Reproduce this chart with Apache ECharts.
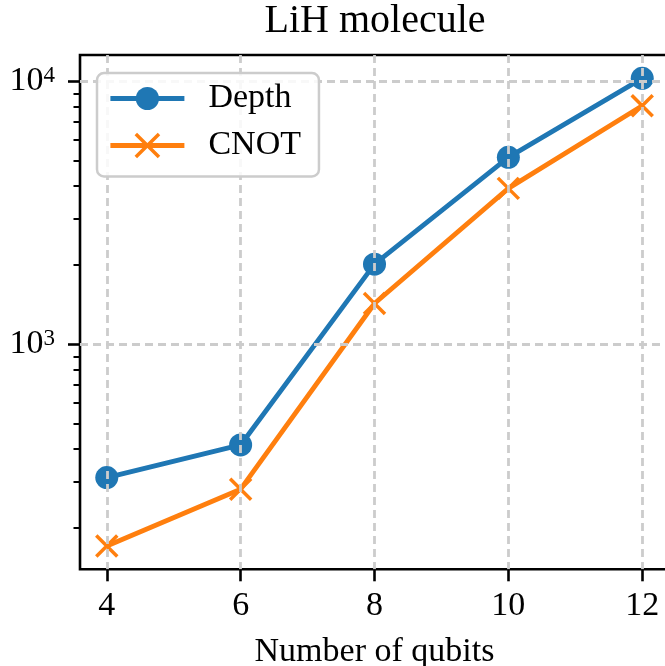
<!DOCTYPE html>
<html>
<head>
<meta charset="utf-8">
<script src="https://cdn.jsdelivr.net/npm/echarts@6/dist/echarts.min.js"></script>
<style>
  html, body { margin: 0; padding: 0; background: #ffffff; }
  #chart { width: 665px; height: 666px; }
</style>
</head>
<body>
<div id="chart"></div>
<script>
// ---- data ----
const qubits = [4, 6, 8, 10, 12];
const depth = [311, 414, 2016, 5137, 10260];
const cnot = [171, 281, 1429, 3915, 8070];
const xTicks = [4, 6, 8, 10, 12];
const yMajorTicks = [1000, 10000];
const yMinorTicks = [200, 300, 400, 500, 600, 700, 800, 900, 2000, 3000, 4000, 5000, 6000, 7000, 8000, 9000];
const titleText = 'LiH molecule';
const xName = 'Number of qubits';

// ---- chart ----
const FONT = 'Liberation Serif';
const lg = Math.log10;
const yMinLog = 2.1441, yMaxLog = 4.1000;
const gridColor = '#cccccc';
const blue = '#1f77b4', orange = '#ff7f0e';
const LW = 4.8;

const chart = echarts.init(document.getElementById('chart'), null, { renderer: 'canvas' });
chart.setOption({
  animation: false,
  backgroundColor: '#ffffff',
  textStyle: { fontFamily: FONT },
  title: {
    text: titleText,
    left: 375, top: 1, textAlign: 'center', padding: 0,
    textStyle: { fontFamily: FONT, fontSize: 40, fontWeight: 'normal', color: '#000' }
  },
  grid: {
    left: 80, top: 55, right: -4, bottom: 96.7,
    containLabel: false, outerBoundsMode: 'none',
    show: true, borderColor: '#000', borderWidth: 2.6, backgroundColor: 'transparent'
  },
  legend: {
    orient: 'vertical',
    left: 97, top: 73,
    data: [
      { name: 'Depth', lineStyle: { width: LW } },
      { name: 'CNOT', lineStyle: { width: LW }, itemStyle: { borderWidth: 3.5, borderColor: orange } }
    ],
    itemWidth: 74, itemHeight: 29, itemGap: 13,
    padding: [8.5, 18, 14, 11],
    backgroundColor: 'rgba(255,255,255,0.85)',
    borderColor: '#cccccc', borderWidth: 2.5, borderRadius: 7,
    textStyle: { fontFamily: FONT, fontSize: 34, color: '#000', lineHeight: 34, padding: [0, 0, 0, 19] },
    z: 20
  },
  xAxis: {
    type: 'value', min: 3.6, max: 12.4, z: 10,
    axisLine: { show: false },
    axisTick: { show: true, length: 12, lineStyle: { color: '#000', width: 2.6 }, customValues: xTicks },
    axisLabel: { customValues: xTicks, margin: 20, color: '#000', fontFamily: FONT, fontSize: 34 },
    splitLine: { show: true, lineStyle: { color: gridColor, width: 2.8, type: [8, 5] } },
    name: xName, nameLocation: 'middle', nameGap: 66,
    nameTextStyle: { fontFamily: FONT, fontSize: 34, color: '#000' }
  },
  yAxis: [
    {
      type: 'value', min: yMinLog, max: yMaxLog, z: 10,
      axisLine: { show: false },
      axisTick: { show: true, length: 12, lineStyle: { color: '#000', width: 2.6 }, customValues: yMajorTicks.map(lg) },
      axisLabel: {
        customValues: yMajorTicks.map(lg), margin: 25, color: '#000',
        fontFamily: FONT, fontSize: 34, lineHeight: 34,
        formatter: v => '10{s|' + Math.round(v) + '}',
        rich: { s: { fontFamily: FONT, fontSize: 23, lineHeight: 23, verticalAlign: 'top', color: '#000' } }
      },
      splitLine: { show: true, lineStyle: { color: gridColor, width: 2.8, type: [8, 5] } }
    },
    {
      type: 'value', min: yMinLog, max: yMaxLog, position: 'left', z: 10,
      axisLine: { show: false },
      axisTick: { show: true, length: 6.5, lineStyle: { color: '#000', width: 2 }, customValues: yMinorTicks.map(lg) },
      axisLabel: { show: false },
      splitLine: { show: false }
    }
  ],
  series: [
    {
      name: 'Depth', type: 'line', z: 2,
      data: qubits.map((q, i) => [q, lg(depth[i])]),
      symbol: 'circle', symbolSize: 23, showSymbol: true,
      lineStyle: { color: blue, width: LW },
      itemStyle: { color: blue, borderWidth: 0 }
    },
    {
      name: 'CNOT', type: 'line', z: 3,
      data: qubits.map((q, i) => [q, lg(cnot[i])]),
      symbol: 'path://M0,0L10,10M10,0L0,10', symbolSize: 21, showSymbol: true,
      lineStyle: { color: orange, width: LW },
      itemStyle: { color: orange, borderColor: orange, borderWidth: 3.5 }
    }
  ]
});
</script>
</body>
</html>
